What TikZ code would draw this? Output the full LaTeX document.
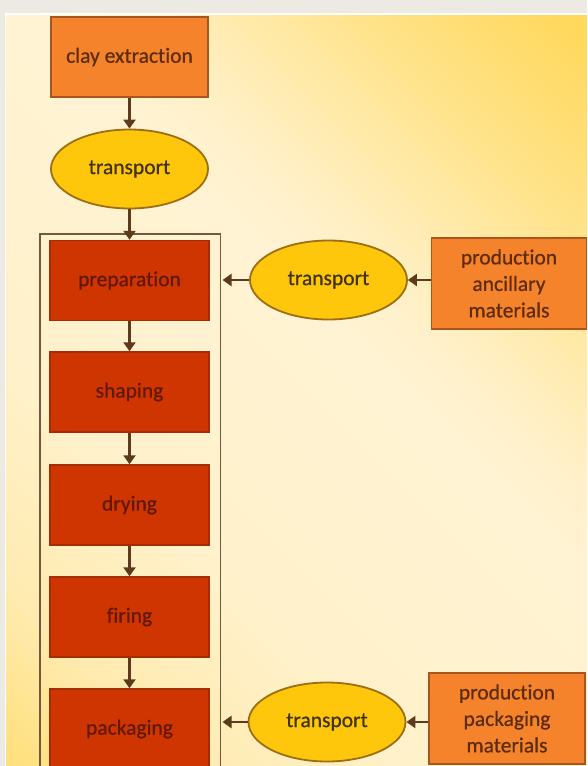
\documentclass[tikz,border=0pt]{standalone}
\usepackage{fontspec}
\setmainfont{Carlito}[Ligatures={NoCommon}, FakeBold=0.7]
\usepackage{xcolor}
\usepackage{tikz}
\usetikzlibrary{arrows.meta,shapes.geometric}
\definecolor{frameg}{HTML}{ECEAE3}
\definecolor{bgtop}{HTML}{FFD85C}
\definecolor{bgwarm}{HTML}{FFE38A}
\definecolor{bgsoft}{HTML}{FFEAAA}
\definecolor{bgpale}{HTML}{FFF0C8}
\definecolor{bgmid}{HTML}{FFF3D4}
\definecolor{bglow}{HTML}{FFF1CA}
\definecolor{bgedge}{HTML}{FFEBB0}
\definecolor{bgbot}{HTML}{FFDF7A}
\definecolor{orangef}{HTML}{F4832B}
\definecolor{oranged}{HTML}{A9561E}
\definecolor{goldf}{HTML}{FFC70C}
\definecolor{goldd}{HTML}{9C6F12}
\definecolor{redf}{HTML}{CE3500}
\definecolor{redd}{HTML}{A52D05}
\definecolor{arrowc}{HTML}{5C3A1C}
\definecolor{otext}{HTML}{5E2C0C}
\definecolor{gtext}{HTML}{42320E}
\definecolor{rtext}{HTML}{621804}
\pgfdeclareverticalshading{panelshade}{100bp}{color(0bp)=(bgbot); color(25bp)=(bgbot);
  color(31.75bp)=(bgedge); color(40bp)=(bglow); color(54bp)=(bgmid); color(57.5bp)=(bgpale);
  color(62bp)=(bgsoft); color(66.5bp)=(bgwarm); color(74bp)=(bgtop); color(100bp)=(bgtop)}
\tikzset{
  srcbox/.style={rectangle, draw=oranged, line width=1.8pt, fill=orangef, text=otext,
    minimum width=157pt, minimum height=80pt, inner sep=0pt, align=center},
  procbox/.style={rectangle, draw=redd, line width=1.5pt, fill=redf, text=rtext,
    minimum width=159pt, minimum height=80pt, inner sep=0pt},
  transp/.style={ellipse, draw=goldd, line width=1.8pt, fill=goldf, text=gtext,
    minimum width=157pt, minimum height=79pt, inner sep=0pt},
  flow/.style={draw=arrowc, line width=2.6pt, -{Triangle[width=12pt,length=9pt]}},
  stageline/.style={draw=arrowc!85!white, line width=1.3pt}
}

\begin{document}
\begin{tikzpicture}[x=1pt, y=-1pt, font=\fontsize{21.5}{26.5}\selectfont]
  \useasboundingbox (0,0) rectangle (587,766);
  \clip (0,0) rectangle (587,766);

  % page background
  \fill[frameg] (0,0) rectangle (587,766);
  \fill[white] (4.5,12.5) rectangle (587,766);
  \begin{scope}
    \clip (6,15) rectangle (587,766);
    \begin{scope}[transform canvas={shift={(296.5,390.5)}, rotate=-45}]
      \shade[shading=panelshade] (-471,-471) rectangle (471,471);
    \end{scope}
  \end{scope}

  % main chain
  \node[srcbox] (clay) at (129.5,57) {clay extraction};
  \node[transp] (tr1) at (129.5,169) {transport};
  \draw[stageline] (40,234) rectangle (220.5,800);
  \node[procbox] (prep) at (129.5,280.5) {preparation};
  \node[procbox] (shape) at (129.5,392) {shaping};
  \node[procbox] (dry) at (129.5,505) {drying};
  \node[procbox] (fire) at (129.5,617) {firing};
  \node[procbox] (pack) at (129.5,729) {packaging};

  \draw[flow] (clay.south) -- (tr1.north);
  \draw[flow] (tr1.south) -- (prep.north);
  \draw[flow] (prep.south) -- (shape.north);
  \draw[flow] (shape.south) -- (dry.north);
  \draw[flow] (dry.south) -- (fire.north);
  \draw[flow] (fire.south) -- (pack.north);

  % side inputs
  \node[transp] (tr2) at (328.5,280) {transport};
  \node[srcbox, minimum width=155pt, minimum height=91pt] (anc) at (509,283.5)
    {production\\ ancillary\\ materials};
  \node[transp] (tr3) at (327,722) {transport};
  \node[srcbox, minimum width=156pt, minimum height=91pt] (pkm) at (507,718.5)
    {production\\ packaging\\ materials};
  \coordinate (inprep) at (222.5,280);
  \coordinate (inpack) at (222.5,722);

  \draw[flow] (anc.west |- tr2.east) -- (tr2.east);
  \draw[flow] (tr2.west) -- (inprep);
  \draw[flow] (pkm.west |- tr3.east) -- (tr3.east);
  \draw[flow] (tr3.west) -- (inpack);
\end{tikzpicture}
\end{document}
